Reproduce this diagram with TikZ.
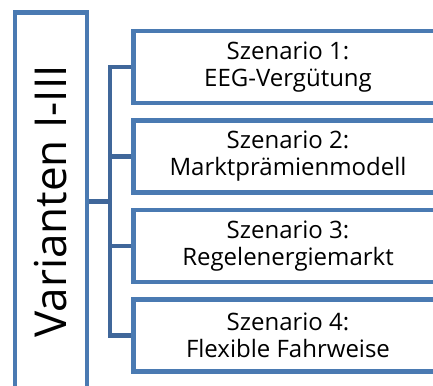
\documentclass[tikz,border=0pt]{standalone}
\usepackage{fontspec}
\setmainfont{Open Sans}
\definecolor{boxblue}{RGB}{74,122,178}
\definecolor{brblue}{RGB}{64,103,154}
\begin{document}
\begin{tikzpicture}[x=1pt,y=-1pt,
  frame/.style={draw=boxblue,line width=4.5pt,fill=white,inner sep=0pt},
  scen/.style={frame,minimum width=309pt,minimum height=72pt,align=center,
    font=\fontsize{24}{27}\selectfont},
  bracket/.style={draw=brblue,line width=4.5pt}]
\useasboundingbox (0,0) rectangle (433,385);
\clip (0,0) rectangle (433,385);
\node[frame,rotate=90,minimum width=378pt,minimum height=72pt,
  font=\fontsize{44}{50}\selectfont] (left) at (51,201.5) {Varianten I-III};
\node[scen] (s1) at (288,67) {Szenario 1:\\EEG-Vergütung};
\node[scen] (s2) at (288,156.5) {Szenario 2:\\Marktprämienmodell};
\node[scen] (s3) at (288,246) {Szenario 3:\\Regelenergiemarkt};
\node[scen] (s4) at (288,335.5) {Szenario 4:\\Flexible Fahrweise};
\coordinate (j) at (110,201.5);
\draw[bracket] (left.south) -- (j);
\draw[bracket] (s1.west) -| (j |- s4.west) -- (s4.west);
\draw[bracket] (s2.west) -- (j |- s2.west);
\draw[bracket] (s3.west) -- (j |- s3.west);
\end{tikzpicture}
\end{document}
